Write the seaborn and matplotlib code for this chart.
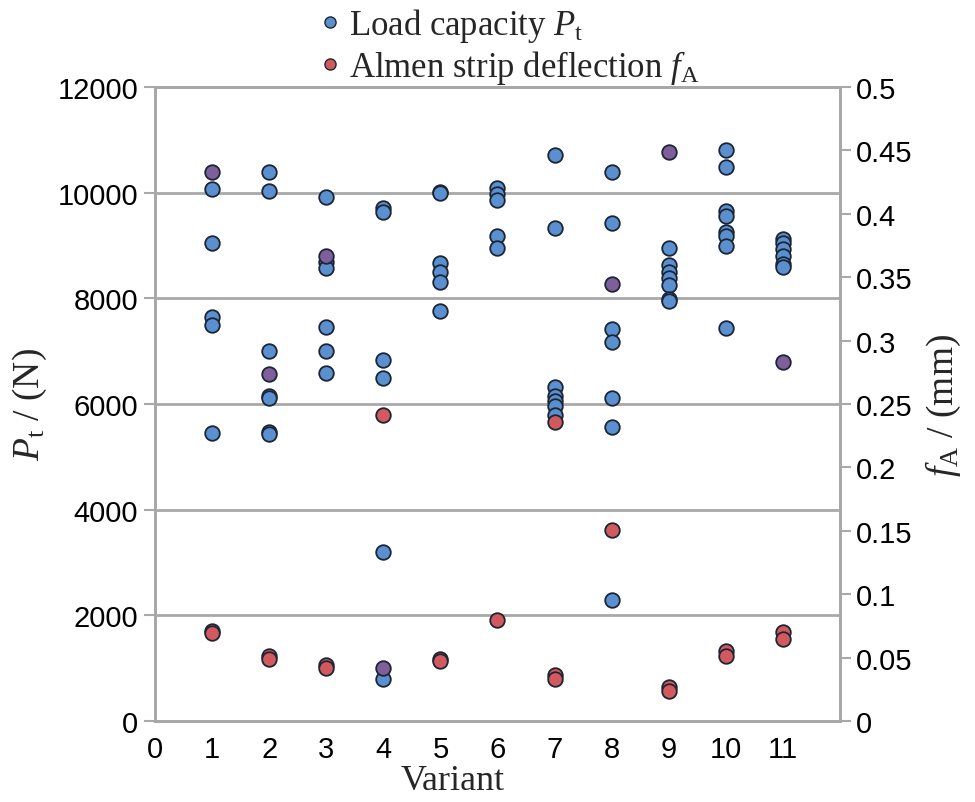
import matplotlib
matplotlib.use("Agg")
import matplotlib.pyplot as plt
from matplotlib.lines import Line2D
from matplotlib.ticker import FuncFormatter, FixedLocator
import seaborn as sns
import pandas as pd

# ---- data ----
pt_variant = [1]*5 + [2]*7 + [3]*6 + [4]*6 + [5]*6 + [6]*5 + [7]*7 + [8]*7 + [9]*7 + [10]*8 + [11]*6
pt_value = [10070, 9042, 7641, 7496, 5446,
            10397, 10037, 7010, 6150, 6110, 5470, 5430,
            9912, 8694, 8568, 7451, 7010, 6582,
            9710, 9628, 6833, 6487, 3193, 795,
            10020, 9990, 8669, 8493, 8316, 7767,
            10083, 9975, 9868, 9186, 8947,
            10714, 9326, 6316, 6158, 6060, 5969, 5800,
            10397, 9421, 7420, 7168, 6108, 5571, 2290,
            8947, 8640, 8500, 8380, 8260, 7980, 7944,
            10808, 10492, 9659, 9552, 9250, 9186, 8997, 7439,
            9123, 9042, 8934, 8808, 8650, 8587]

fa_variant = [1, 1, 2, 2, 3, 3, 4, 5, 5, 6, 7, 7, 7, 8, 9, 9, 10, 10, 11, 11]
fa_value = [0.071, 0.069, 0.051, 0.049, 0.044, 0.042, 0.241, 0.049, 0.047, 0.080,
            0.236, 0.036, 0.033, 0.151, 0.027, 0.024, 0.055, 0.051, 0.070, 0.065]

# deflection points drawn where they coincide with load points (appear purple)
ov_variant = [1, 2, 3, 4, 8, 9, 11]
ov_value = [0.433, 0.274, 0.367, 0.042, 0.345, 0.449, 0.283]

left_ticks = [0, 2000, 4000, 6000, 8000, 10000, 12000]
right_ticks = [0, 0.05, 0.1, 0.15, 0.2, 0.25, 0.3, 0.35, 0.4, 0.45, 0.5]
x_ticks = list(range(12))

# ---- style ----
sns.set_style("white")
plt.rcParams['font.family'] = ['Liberation Sans', 'DejaVu Sans']
plt.rcParams['mathtext.fontset'] = 'custom'
plt.rcParams['mathtext.rm'] = 'Liberation Serif'
plt.rcParams['mathtext.it'] = 'Liberation Serif:italic'

BLUE = '#5a8fd0'
RED = '#d25a5e'
PURPLE = '#7e5f9c'
EDGE = '#1c2533'
GRID = '#a8a8a8'

fig = plt.figure(figsize=(9.75, 8.03), dpi=100)
ax = fig.add_axes([0.159, 0.1009, 0.7025, 0.7895])
ax2 = ax.twinx()

df_pt = pd.DataFrame({'Variant': pt_variant, 'Pt': pt_value})
df_fa = pd.DataFrame({'Variant': fa_variant, 'fA': fa_value})
df_ov = pd.DataFrame({'Variant': ov_variant, 'fA': ov_value})

ms = 110
sns.scatterplot(data=df_pt, x='Variant', y='Pt', ax=ax, color=BLUE, s=ms,
                edgecolor=EDGE, linewidth=1.3, zorder=3, legend=False)
sns.scatterplot(data=df_fa, x='Variant', y='fA', ax=ax2, color=RED, s=ms,
                edgecolor=EDGE, linewidth=1.3, zorder=3, legend=False)
sns.scatterplot(data=df_ov, x='Variant', y='fA', ax=ax2, color=PURPLE, s=ms,
                edgecolor=EDGE, linewidth=1.3, zorder=3, legend=False)

ax.set_xlim(0, 12)
ax.set_ylim(0, 12000)
ax2.set_ylim(0, 0.5)
ax.xaxis.set_major_locator(FixedLocator(x_ticks))
ax.yaxis.set_major_locator(FixedLocator(left_ticks))
ax2.yaxis.set_major_locator(FixedLocator(right_ticks))
ax2.yaxis.set_major_formatter(FuncFormatter(lambda v, p: '%g' % round(v, 3)))

ax.grid(axis='y', color=GRID, linewidth=2)
ax.set_axisbelow(True)
for a in (ax, ax2):
    for s in a.spines.values():
        s.set_color(GRID)
        s.set_linewidth(2)
        s.set_visible(True)

tick_kw = dict(direction='out', length=8, width=1.5, color=GRID,
               labelsize=21, labelcolor='black')
ax.tick_params(axis='both', **tick_kw)
ax2.tick_params(axis='y', **tick_kw)
ax.tick_params(axis='y', pad=4)
ax.tick_params(axis='x', pad=2)

ax.set_xlabel('Variant', family='Liberation Serif', fontsize=26, labelpad=0)
ax.xaxis.set_label_coords(0.434, -0.068)
ax.set_ylabel(r'$P_\mathrm{t}$ / (N)', family='Liberation Serif', fontsize=27, labelpad=6)
ax2.set_ylabel(r'$f_\mathrm{A}$ / (mm)', family='Liberation Serif', fontsize=27,
               rotation=90, labelpad=8)

handles = [Line2D([], [], marker='o', linestyle='none', markersize=8,
                  markerfacecolor=BLUE, markeredgecolor=EDGE, markeredgewidth=1),
           Line2D([], [], marker='o', linestyle='none', markersize=8,
                  markerfacecolor=RED, markeredgecolor=EDGE, markeredgewidth=1)]
labels = [r'Load capacity $P_\mathrm{t}$', r'Almen strip deflection $f_\mathrm{A}$']
fig.legend(handles, labels, loc='upper left', bbox_to_anchor=(0.306, 1.008),
           frameon=False, prop={'family': 'Liberation Serif', 'size': 25},
           handletextpad=0.05, labelspacing=0.1, handlelength=1.0, borderaxespad=0)

fig.savefig('out.png', dpi=100)
